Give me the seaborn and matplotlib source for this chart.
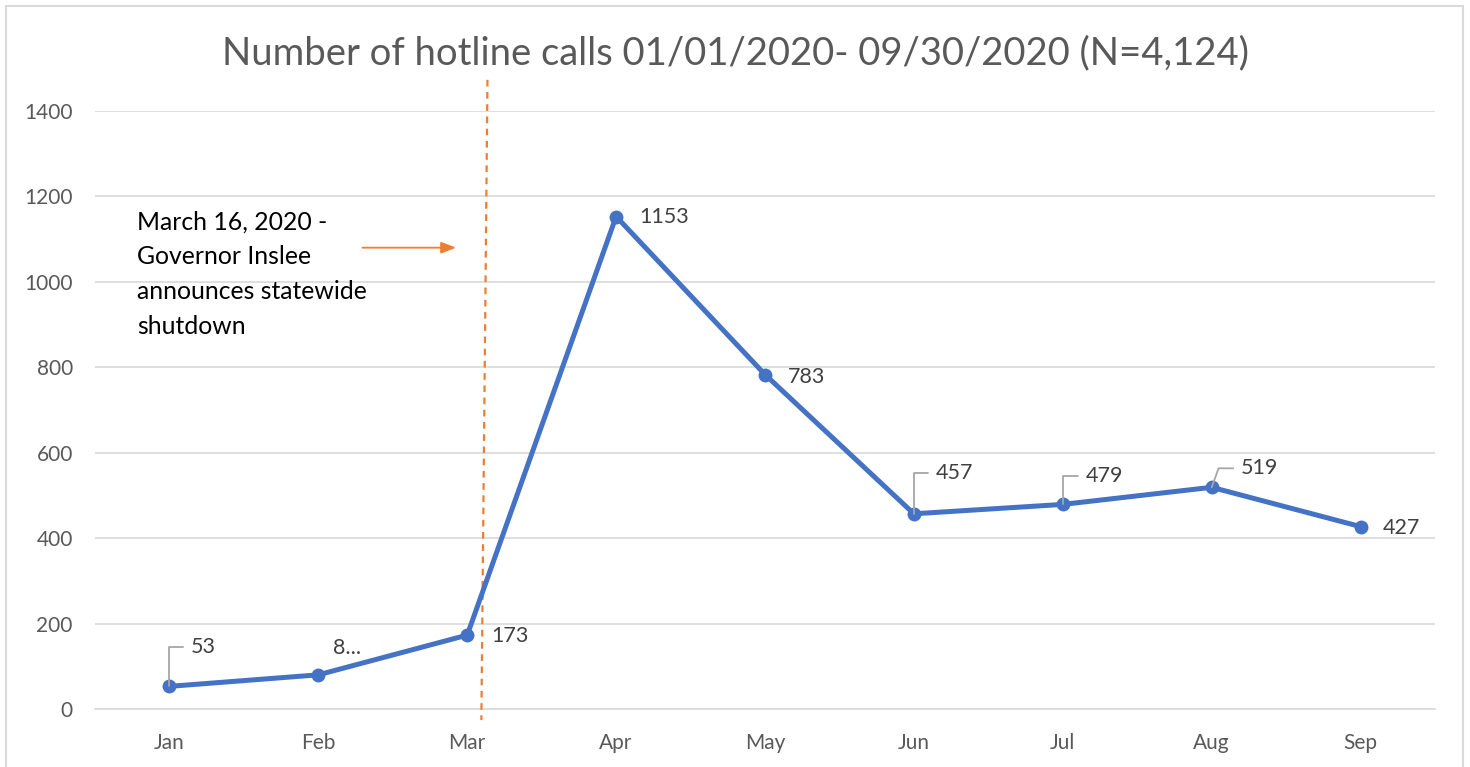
import numpy as np
import pandas as pd
import seaborn as sns
import matplotlib.pyplot as plt
from matplotlib.patches import Rectangle

# data
months = ['Jan', 'Feb', 'Mar', 'Apr', 'May', 'Jun', 'Jul', 'Aug', 'Sep']
calls = [53, 80, 173, 1153, 783, 457, 479, 519, 427]
point_labels = ['53', '8...', '173', '1153', '783', '457', '479', '519', '427']
y_ticks = [0, 200, 400, 600, 800, 1000, 1200, 1400]

title = 'Number of hotline calls 01/01/2020- 09/30/2020 (N=4,124)'
note = 'March 16, 2020 -\nGovernor Inslee\nannounces statewide\nshutdown'

df = pd.DataFrame({'idx': np.arange(len(months)), 'month': months, 'calls': calls})

sns.set_style('white')
plt.rcParams['font.family'] = ['Lato', 'DejaVu Sans']

grey_txt = '#595959'
grid_col = '#d9d9d9'
blue = '#4472C4'
orange = '#ED7D31'

fig = plt.figure(figsize=(14.7, 7.67), dpi=100)
ax = fig.add_axes([95 / 1470, 58 / 767, 1340 / 1470, 598 / 767])

sns.lineplot(data=df, x='idx', y='calls', ax=ax, color=blue, linewidth=3.6,
             marker='o', markersize=10, markeredgewidth=0, zorder=5)

ax.set_xlim(-0.5, len(months) - 0.5)
ax.set_ylim(0, 1400)
ax.set_yticks(y_ticks)
ax.set_yticklabels([str(t) for t in y_ticks])
ax.set_xticks(df['idx'])
ax.set_xticklabels(months)
ax.set_xticks(np.arange(-0.5, len(months)), minor=True)
ax.set_xlabel('')
ax.set_ylabel('')

ax.tick_params(axis='x', which='major', length=0, pad=17, labelsize=15, labelcolor=grey_txt)
ax.tick_params(axis='x', which='minor', length=7, width=1.2, color=grid_col, direction='out')
ax.tick_params(axis='y', length=0, pad=16, labelsize=15, labelcolor=grey_txt)

ax.yaxis.grid(True, color=grid_col, linewidth=1.2)
ax.set_axisbelow(True)
for s in ['left', 'right', 'top']:
    ax.spines[s].set_visible(False)
ax.spines['bottom'].set_color(grid_col)
ax.spines['bottom'].set_linewidth(1.2)

# data labels (offsets in pixels from each point)
offsets = [(21, 39), (15, 27), (24, -1), (23, 0), (23, -2), (22, 41), (23, 28), (29, 19), (22, -1)]
leaders = {0: 90, 5: 90, 6: 90, 7: 70}
for i, (lab, off) in enumerate(zip(point_labels, offsets)):
    kw = {}
    if i in leaders:
        kw['arrowprops'] = dict(arrowstyle='-', color='#a6a6a6', lw=1.3,
                                shrinkA=3, shrinkB=0,
                                connectionstyle='angle,angleA=0,angleB=%d,rad=0' % leaders[i])
    ax.annotate(lab, xy=(i, calls[i]), xytext=off, textcoords='offset pixels',
                ha='left', va='center', fontsize=15.5, color='#404040', zorder=6, **kw)

# shutdown marker line (slightly slanted, as drawn in the original)
ax.plot([2.136, 2.095], [1473, -26], color=orange, linestyle=(0, (3, 2.5)),
        linewidth=1.6, clip_on=False, zorder=4)
ax.annotate('', xy=(1.925, 1080), xytext=(1.296, 1080),
            arrowprops=dict(arrowstyle='-|>,head_length=0.9,head_width=0.35',
                            color=orange, lw=1.3, shrinkA=0, shrinkB=0))
ax.text(-0.215, 1167, note, ha='left', va='top', fontsize=17.8, color='black',
        linespacing=1.62)

fig.text(0.5, 1 - 53 / 767, title, ha='center', va='center', fontsize=27.5, color=grey_txt)

fig.patches.append(Rectangle((6 / 1470, -0.02), 1457 / 1470, 1 - 6 / 767 + 0.02,
                             transform=fig.transFigure, fill=False,
                             edgecolor=grid_col, linewidth=1.5))

fig.savefig('out.png', dpi=100)
